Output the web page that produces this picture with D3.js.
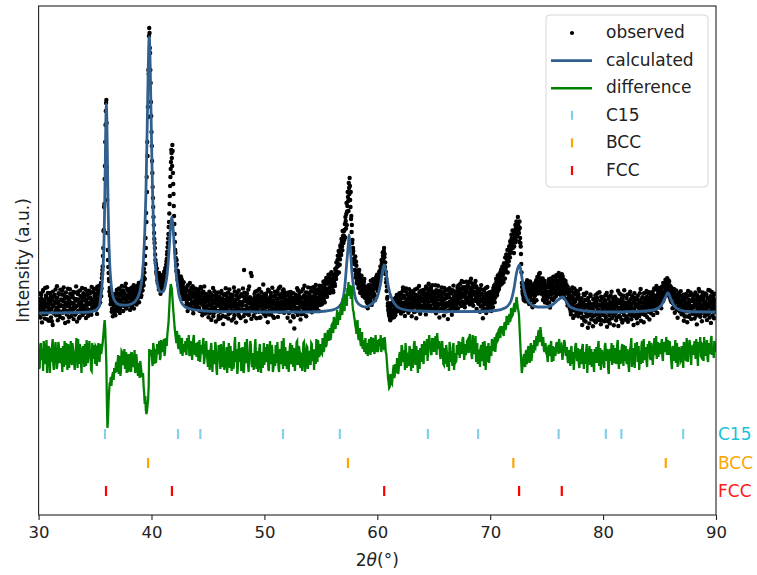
<!DOCTYPE html>
<html>
<head>
<meta charset="utf-8">
<script src="https://cdn.jsdelivr.net/npm/d3@7"></script>
<style>
  body { margin: 0; background: #ffffff; }
  text { font-family: "DejaVu Sans", sans-serif; }
</style>
</head>
<body>
<script>
// ---- DATA ----

// observed pattern, one row per degree of 2theta, step 0.05 deg (row 0 starts at 30)
const observedStart = 30;
const observedStep = 0.05;
const observedRows = [
  [1102,958,1185,1047,1003,1139,896,1072,1221,1015,1093,934,1051,1164,980,1248,1008,1117,912,1085],
  [1030,1190,945,1076,1133,870,1062,1158,995,1104,1226,968,1039,1142,917,1081,1010,1176,949,1068],
  [1125,1003,1212,938,1057,1169,1022,890,1096,1147,975,1060,1233,1014,948,1110,1182,1036,961,1089],
  [1150,1024,929,1071,1195,1043,985,1129,904,1066,1203,1012,1098,953,1160,1035,1082,1240,970,1055],
  [1118,992,1066,1174,940,1095,1210,1027,963,1142,1080,1188,1009,1127,1251,1046,1105,1196,1031,1160],
  [1090,1183,1024,1137,1252,1068,1176,1121,1219,1095,1204,1160,1340,1420,1560,1810,2050,2330,2700,3010],
  [3120,2450,1790,1520,1390,1310,1240,1180,1120,1095,1030,1112,1015,1147,1020,1098,968,1136,1059,1172],
  [1183,1045,1129,1236,990,1107,1174,1062,1215,1138,1010,1192,1081,1256,1124,1047,1168,1230,1093,1150],
  [1138,1204,1021,1176,1097,1243,1062,1150,1218,1034,1169,1251,1088,1197,1112,1263,1140,1225,1098,1286],
  [1195,1290,1168,1250,1214,1302,1265,1338,1330,1480,1640,1900,2200,2560,2950,3380,3840,3640,3420,3100],
  [2800,2510,2250,2050,1870,1730,1640,1520,1470,1380,1362,1290,1330,1225,1296,1341,1182,1275,1368,1230],
  [1302,1256,1378,1334,1415,1390,1472,1530,1604,1690,1780,1900,2080,2260,2430,2620,2540,2670,2390,2180],
  [1960,1780,1620,1540,1410,1475,1322,1396,1268,1340,1215,1302,1356,1188,1270,1231,1155,1298,1206,1142],
  [1180,1063,1245,1122,1009,1166,1213,1078,1290,1136,1045,1198,1102,1257,988,1150,1224,1071,1185,1119],
  [1037,1168,1094,1226,1140,1012,1187,1250,1083,1172,968,1109,1203,1046,1131,985,1094,1159,1020,1118],
  [1162,948,1071,1130,1003,1186,921,1058,1115,1240,986,1093,1027,1154,905,1069,1138,1011,1195,960],
  [1082,1147,938,1035,1211,1006,1096,879,1123,1064,1180,952,1047,1159,1018,1102,935,1071,1226,990],
  [1056,1133,915,1089,1170,1002,1245,968,1075,1118,894,1039,1192,1060,983,1146,1027,1101,940,1177],
  [1013,1095,1236,957,1420,1149,1024,908,1112,1187,1041,979,1130,1255,1004,1088,1390,931,1050,1121],
  [1075,962,1140,1028,1204,1085,937,1117,1051,1168,1002,1231,1090,946,1063,1152,1019,1106,1275,983],
  [1136,1047,960,1185,1070,1124,898,1059,1210,1012,1097,1158,975,1066,1243,1030,1113,941,1080,1171],
  [1024,1139,1062,1207,951,1091,1175,1036,1254,1098,1143,1005,1188,1072,1226,992,1110,1053,1164,1035],
  [1108,943,1079,1196,1040,1122,906,1058,1183,1017,1134,1069,947,835,1086,1003,1151,1042,1237,970],
  [1090,1165,1011,1128,925,1073,1209,1048,1146,982,1101,1262,1037,1119,958,1077,1194,1026,1140,1063],
  [1180,1022,1107,1241,998,1136,1060,1203,1089,1155,1030,1270,1118,1046,1192,1084,1228,1009,1163,1102],
  [1130,1215,1078,1262,1147,1190,1305,1096,1238,1176,1320,1152,1284,1213,1356,1241,1190,1378,1265,1330],
  [1250,1335,1198,1302,1376,1261,1410,1329,1448,1380,1563,1478,1395,1590,1526,1642,1570,1695,1618,1760],
  [1690,1760,1820,1745,1910,1980,1870,2060,2150,2010,2240,2340,2120,2200,1960,1870,1720,1640,1530,1480],
  [1420,1555,1380,1462,1310,1398,1275,1346,1420,1233,1305,1190,1362,1248,1160,1287,1205,1330,1142,1256],
  [1180,1105,1243,1037,1162,1226,1089,1195,1130,1268,1071,1210,1155,1302,1184,1236,1120,1290,1350,1262],
  [1296,1210,1348,1265,1392,1310,1425,1372,1490,1430,1560,1510,1640,1580,1495,1402,1330,1255,1150,1088],
  [1010,962,1045,918,990,1062,943,1021,1088,976,1105,1034,968,1142,1003,1076,1159,1022,1093,1187],
  [1041,1128,985,1170,1063,1212,1006,1094,1151,960,1083,1236,1027,1110,1179,992,1066,1143,1018,1201],
  [1084,957,1132,1048,1190,1000,1115,1225,1052,937,1098,1163,1025,1144,1260,1072,982,1120,1187,1043],
  [1106,1178,1033,1221,1092,1150,976,1247,1120,1065,1198,1283,1040,1165,1107,1232,1010,1141,1206,1077],
  [1159,1024,1113,1268,987,1096,1185,1052,1129,1212,945,1077,1168,1031,1246,1102,1057,1193,964,1088],
  [1132,1215,1006,1084,1170,929,1063,1147,1238,1019,1105,1189,973,1056,1122,1264,1040,1097,1176,1011],
  [1071,1153,1242,1037,1126,1205,1090,1283,1148,1061,1227,1176,1104,1299,1185,1047,1250,1138,1212,1095],
  [1263,1148,1304,1190,1076,1238,1332,1125,1209,1281,1062,1175,1247,1116,1310,1194,1030,1156,1228,1082],
  [1140,1203,1002,1117,1269,1058,1176,937,1089,1215,1034,1128,1182,990,1107,1250,1065,1146,1020,1197],
  [1085,1163,1010,1124,1208,1049,1176,1262,1097,1145,1230,1303,1168,1280,1215,1346,1252,1310,1398,1275],
  [1360,1284,1423,1318,1390,1452,1336,1480,1405,1530,1462,1395,1570,1508,1622,1545,1680,1598,1735,1660],
  [1640,1720,1590,1780,1695,1830,1760,1880,1800,1950,1860,1790,1905,1740,1655,1480,1290,1210,1170,1140],
  [1190,1262,1108,1215,1173,1290,1136,1248,1195,1079,1222,1154,1285,1120,1206,1047,1179,1253,1098,1231],
  [1172,1265,1118,1306,1230,1184,1342,1257,1390,1221,1310,1268,1176,1335,1209,1142,1284,1096,1237,1160],
  [1205,1089,1273,1150,1328,1196,1045,1240,1302,1131,1267,1188,1354,1225,1143,1296,1210,1368,1254,1180],
  [1310,1226,1352,1190,1283,1340,1215,1377,1252,1296,1168,1320,1205,1258,1130,1276,1189,1064,1221,1143],
  [1185,1032,1127,976,1210,1068,1152,941,1093,1236,1017,1118,1174,994,1061,1203,958,1140,1082,1007],
  [1065,988,1137,870,1020,1096,952,1167,1009,905,1074,983,1120,842,1041,1103,968,1034,1159,926],
  [995,1078,857,1010,1133,966,1052,898,1107,980,1185,1028,920,1069,952,1114,877,1003,1146,1037],
  [974,1091,908,1048,1168,942,1015,853,1080,997,1131,966,886,1059,1023,1202,939,987,1105,868],
  [1030,1153,985,917,1076,1008,1120,860,1042,1185,953,1087,1001,1138,894,1027,1163,970,1062,923],
  [1094,956,1039,1172,902,1012,1109,978,1203,1050,927,1081,994,1146,870,1033,1117,961,1065,999],
  [1127,888,1006,1070,960,1188,1025,913,1098,982,1149,1041,898,1016,1132,973,1077,1210,949,1058],
  [1002,1119,925,1064,1158,987,1093,1036,1202,970,1080,1145,1018,1226,1057,1130,991,1178,1103,1237],
  [1145,1074,1216,1038,1162,1255,1108,1200,1132,1278,1185,1230,1312,1170,1285,1250,1198,1302,1144,1221],
  [1176,1101,1225,1038,1147,1083,1200,992,1118,1169,1026,1094,942,1133,1060,1191,1004,1085,1157,977],
  [1069,986,1138,912,1023,1102,955,1180,1034,898,1077,1010,1123,966,1055,1196,929,1018,1111,983],
  [1048,1165,935,1082,1001,1127,876,1039,1154,977,1090,1206,952,1025,1114,908,1066,1143,994,1079],
  [958,1100,1027,1173,919,1045,1132,981,1068,1215,1006,891,1087,1148,964,1053,1126,999,1182,1036],
  [1090]
];

// observed points lying between the ones above (row r starts at 30.025 + r)
const observedStartMid = 30.025;
const observedRowsMid = [
  [1011,1064,1128,945,1172,1090,1036,1205,978,1118,1057,1240,1002,1146,1083,925,1190,1049,1133,1015],
  [1098,1161,1027,907,1120,1204,1055,984,1172,1090,1013,1139,1258,1046,1101,1187,969,1056,1224,1118],
  [1062,1174,993,1108,1245,1031,1137,1078,1196,1009,1150,1092,904,1120,1061,1227,1085,1149,1003,1166],
  [1087,1201,1045,1133,973,1112,1256,1060,1002,1179,1124,938,1069,1215,1097,1000,1153,1131,1024,1187],
  [1046,1157,1230,1011,1122,1068,1173,989,1094,1212,1019,1146,1085,973,1199,1120,1058,1233,1107,1064],
  [1150,1046,1228,981,1110,1195,1072,1263,1140,1214,1290,1235,1380,1455,1640,1820,2080,2460,2870,3090],
  [2890,2120,1620,1450,1330,1205,1162,1078,1146,1003,1090,958,1067,1125,990,1183,1041,1108,1220,1012],
  [1112,1230,1078,1165,1029,1192,1120,1261,1087,1146,1213,1059,1180,1122,1284,1034,1158,1097,1211,1066],
  [1170,1085,1232,1129,1186,1047,1205,1118,1268,1093,1222,1150,1202,1074,1245,1175,1210,1290,1166,1238],
  [1262,1149,1308,1217,1281,1356,1432,1395,1560,1740,1990,2350,2700,3050,3420,3760,3790,3590,3290,2960],
  [2660,2390,2140,1950,1790,1690,1575,1490,1402,1436,1318,1356,1287,1390,1248,1315,1362,1224,1297,1340],
  [1356,1298,1402,1365,1440,1372,1506,1575,1648,1735,1850,1985,2160,2350,2500,2590,2460,2610,2280,2060],
  [1880,1700,1590,1460,1520,1365,1412,1290,1355,1238,1310,1260,1185,1327,1214,1279,1130,1246,1173,1208],
  [1125,1217,1092,1150,1268,1035,1129,1201,1057,1176,1240,1083,1159,1024,1196,1108,1172,1046,1232,1090],
  [1152,1073,1205,1118,1040,1164,1096,1232,1005,1128,1190,1067,1145,1256,1012,1102,1181,1059,1137,995],
  [1028,1110,1203,989,1076,1142,1034,1167,1092,957,1124,1208,1043,1098,1175,1006,1117,1062,930,1150],
  [1115,1003,1072,1188,1040,1132,960,1105,1170,1026,1090,1237,1011,1128,1067,1193,980,1144,1052,1108],
  [1175,1021,1098,1152,1060,936,1119,1206,1034,1088,1162,1009,1131,1080,1215,957,1093,1160,1018,1070],
  [1063,1158,1020,1107,1194,985,1130,1066,1170,1032,1101,1224,970,1085,1147,1043,1121,1360,1009,1092],
  [1118,1037,1180,996,1090,1143,1065,1212,1018,1097,1160,943,1127,1052,1198,1084,1000,1140,1068,1175],
  [1020,1102,1167,1003,1139,1050,1222,1096,975,1133,1061,1190,1028,1117,1086,954,1158,1035,1204,1072],
  [1093,1186,1015,1121,1060,1238,1002,1144,1080,1172,1041,1106,1213,1019,1150,1087,1196,1038,1125,1071],
  [1166,1039,1112,990,1155,1083,1201,1027,1099,1140,960,1188,1056,1118,1020,1172,1094,1003,1131,1218],
  [1044,1123,1196,1058,1101,977,1142,1087,1230,1015,1168,1066,1135,1195,1032,1150,1089,1246,1011,1120],
  [1137,1076,1209,1049,1152,1095,1247,1018,1166,1110,1228,1062,1185,1140,1015,1206,1124,1262,1070,1198],
  [1185,1104,1246,1158,1302,1120,1270,1214,1158,1340,1226,1288,1190,1372,1305,1246,1335,1212,1398,1300],
  [1290,1218,1362,1325,1284,1430,1356,1495,1402,1520,1460,1610,1540,1472,1665,1590,1730,1655,1810,1725],
  [1805,1720,1880,1950,1835,2090,2005,2200,2110,2290,2180,2260,2050,1930,1800,1690,1585,1610,1495,1530],
  [1480,1345,1502,1290,1415,1356,1240,1382,1305,1192,1338,1266,1210,1310,1175,1264,1302,1148,1227,1185],
  [1235,1142,1090,1206,1268,1118,1250,1174,1312,1098,1246,1187,1328,1221,1275,1165,1310,1244,1296,1373],
  [1240,1325,1290,1406,1340,1455,1400,1520,1462,1595,1535,1610,1548,1450,1380,1296,1210,1132,1060,1025],
  [985,1058,932,1016,1090,960,1072,1003,1124,948,1060,1135,1012,1087,1170,1040,1118,1065,1152,1010],
  [1108,1015,1190,1072,1140,1246,1052,1163,1093,1020,1208,1125,1067,1181,1036,1154,1227,1089,1130,1060],
  [1162,1030,1097,1210,1080,1146,1003,1174,1119,1068,1235,1014,1126,1088,1197,1045,1156,1214,1061,1132],
  [1050,1221,1135,1068,1183,1114,1256,1040,1172,1230,1096,1145,1212,1060,1248,1171,1115,1268,1032,1163],
  [1095,1187,1060,1148,1219,1031,1140,1262,1077,1166,1010,1123,1208,1090,1154,1196,1018,1130,1240,1045],
  [1175,1053,1141,1226,1090,1160,1016,1200,1104,1072,1185,1043,1128,1218,1085,1150,1206,1022,1137,1194],
  [1120,1208,1097,1265,1170,1084,1236,1142,1190,1310,1103,1248,1155,1227,1078,1215,1180,1302,1126,1244],
  [1205,1290,1108,1246,1175,1298,1157,1222,1094,1265,1186,1117,1282,1203,1140,1256,1108,1193,1130,1170],
  [1092,1165,1230,1055,1184,1110,1012,1143,1226,1074,1160,1096,1240,1028,1152,1113,1190,1070,1136,1052],
  [1120,1048,1195,1083,1152,1239,1114,1190,1275,1205,1332,1256,1190,1365,1288,1230,1380,1335,1290,1425],
  [1312,1455,1370,1298,1488,1410,1546,1432,1575,1496,1620,1540,1466,1655,1582,1708,1630,1772,1690,1815],
  [1700,1810,1655,1745,1870,1720,1905,1830,1760,1890,1825,1700,1840,1690,1580,1395,1250,1185,1205,1120],
  [1245,1130,1286,1202,1148,1318,1225,1097,1270,1186,1305,1163,1241,1072,1198,1265,1124,1212,1158,1290],
  [1221,1318,1194,1350,1275,1212,1380,1296,1245,1335,1190,1302,1248,1120,1263,1184,1310,1135,1198,1270],
  [1130,1246,1180,1302,1095,1265,1210,1335,1172,1288,1230,1120,1312,1256,1195,1345,1160,1290,1315,1228],
  [1265,1390,1248,1305,1172,1330,1268,1195,1352,1230,1285,1140,1262,1310,1188,1225,1098,1250,1176,1112],
  [1096,1220,1003,1160,1085,1245,1016,1130,1190,962,1102,1056,1212,1030,1145,988,1176,1050,1123,1230],
  [1012,1110,943,1085,1056,1180,914,1046,1121,1000,1192,955,1064,1140,1019,886,1083,1176,1002,1058],
  [1041,957,1125,1060,915,1090,1168,1001,1059,1140,936,1075,1016,1197,990,1063,1152,918,1081,972],
  [1047,1129,1003,962,1114,1070,1190,909,1032,1150,1057,924,1098,1165,995,1088,1042,1138,963,1066],
  [1104,993,1052,1127,946,1091,1212,1015,960,1108,1037,1174,925,1070,1131,1003,1098,1218,1024,1083],
  [1013,1140,1075,935,1098,1059,1180,1026,1127,968,1083,1159,1037,962,1104,1188,1005,1080,1142,938],
  [1052,1160,969,1104,1036,1119,1230,990,1057,1142,1013,1095,1188,972,1067,1110,1034,1151,1089,1190],
  [1074,1197,1032,1140,1089,1016,1184,1120,1068,1167,1236,1035,1108,1163,1260,1092,1155,1208,1071,1146],
  [1100,1192,1245,1120,1208,1170,1290,1152,1246,1205,1322,1262,1195,1338,1280,1226,1314,1176,1262,1120],
  [1248,1140,1196,1088,1172,1230,1058,1150,1096,1215,1043,1130,1176,1018,1102,1155,1066,1209,1027,1119],
  [1108,1034,1172,1065,958,1140,1089,1006,1156,1070,1211,953,1095,1168,1028,1110,1060,1174,994,1140],
  [1118,1003,1086,1195,962,1060,1169,1028,1104,1230,1045,1131,1076,990,1158,1040,1196,1020,1110,1170],
  [1039,1186,972,1068,1140,1006,1220,1090,944,1114,1159,1040,1200,1019,1096,1162,938,1075,1122,1058]
];

// calculated profile, [2theta, intensity] knots
const calcProfile = [
  [30,990],[32,992],[33.5,995],[34.5,1000],[35.1,1020],[35.4,1062],[35.45,1100],[35.5,1150],[35.6,1250],
  [35.7,1415],[35.8,1750],[35.85,2040],[35.9,2435],[35.95,2870],[36,3080],[36.05,2900],[36.1,2490],
  [36.15,2100],[36.2,1810],[36.3,1480],[36.4,1310],[36.6,1150],[36.9,1090],[37.3,1070],[37.8,1068],
  [38.2,1080],[38.5,1100],[38.8,1150],[39,1221],[39.2,1383],[39.3,1544],[39.4,1786],[39.5,2163],
  [39.55,2432],[39.6,2728],[39.65,3051],[39.7,3373],[39.75,3642],[39.8,3750],[39.85,3642],[39.9,3373],
  [39.95,3051],[40,2735],[40.05,2440],[40.1,2175],[40.2,1800],[40.3,1560],[40.4,1395],[40.6,1240],
  [40.8,1202],[41,1203],[41.2,1252],[41.3,1310],[41.4,1395],[41.5,1525],[41.6,1700],[41.7,1876],
  [41.8,1950],[41.9,1860],[42,1690],[42.1,1505],[42.2,1370],[42.3,1280],[42.4,1190],[42.6,1110],
  [42.8,1070],[43,1050],[43.5,1030],[44.5,1012],[46,1003],[50,1000],[54,1000],[55.5,1010],[56.3,1030],
  [56.8,1080],[57.1,1230],[57.3,1500],[57.45,1700],[57.5,1770],[57.6,1650],[57.75,1400],[57.95,1200],
  [58.2,1100],[58.6,1060],[59,1050],[59.35,1070],[59.7,1100],[60,1150],[60.25,1260],[60.45,1400],
  [60.6,1470],[60.8,1380],[61,1240],[61.3,1130],[61.7,1060],[62.3,1025],[63.5,1010],[66,1003],[69,1005],
  [70.5,1015],[71.3,1040],[71.8,1100],[72.1,1230],[72.35,1400],[72.6,1470],[72.8,1350],[73,1220],
  [73.3,1120],[73.7,1070],[74.2,1050],[75,1050],[75.6,1080],[76,1120],[76.45,1150],[76.7,1110],[77,1060],
  [77.5,1030],[78.5,1010],[80,1000],[83,1005],[84.5,1020],[85.1,1060],[85.45,1130],[85.75,1190],
  [86,1130],[86.3,1060],[86.8,1020],[87.5,1005],[90,1000]
];

// difference (observed - calculated), one row per degree, step 0.1 deg
const diffStep = 0.1;
const diffOffset = 540;   // vertical shift applied when the difference is drawn
const diffRows = [
  [60,-90,150,20,-130,110,-40,180,-10,90],
  [-150,70,130,-60,40,160,-110,20,120,-30],
  [100,-140,60,170,-70,30,140,-100,80,-20],
  [150,10,-120,90,40,190,-60,110,-150,60],
  [20,140,-80,100,-10,170,50,-130,80,130],
  [-60,110,30,150,-40,90,90,180,320,300],
  [-60,-700,-430,-250,-190,-200,-140,-100,-150,-40],
  [-40,-160,20,-110,60,-70,90,-30,-150,40],
  [-90,30,-140,0,-60,80,-120,-20,-180,-50],
  [-30,-130,-170,-280,-460,-520,-530,-420,90,50],
  [60,-80,110,20,-50,140,40,170,10,120],
  [80,190,60,150,230,340,560,740,690,520],
  [380,250,150,230,90,180,40,200,110,60],
  [170,30,140,230,50,120,-20,190,80,150],
  [10,160,90,-40,130,60,200,-10,110,40],
  [-90,80,-30,150,-140,40,-60,110,-170,20],
  [90,-110,30,-50,170,-80,10,-150,60,-20],
  [120,-130,40,-70,210,-10,-160,70,-40,100],
  [-80,30,-120,160,-50,80,-140,0,130,-90],
  [50,-60,190,-110,20,-30,140,-150,60,-20],
  [-70,110,-40,30,-130,170,-10,80,-100,40],
  [130,-50,20,-140,90,-20,60,200,-80,30],
  [-110,70,-30,150,-60,10,100,-130,40,170],
  [-20,90,-100,30,-50,160,-140,50,110,-30],
  [60,-70,140,10,-120,80,190,-40,120,30],
  [110,40,180,90,220,130,260,170,300,210],
  [340,250,380,290,420,330,460,380,510,430],
  [560,470,600,520,680,620,730,650,540,460],
  [380,300,340,220,270,160,230,90,180,120],
  [40,150,70,190,30,120,200,80,160,60],
  [180,90,140,230,110,200,80,150,40,-120],
  [-240,-290,-180,-260,-120,-200,-60,-150,-20,-110],
  [60,-80,110,-40,20,150,-100,30,-60,90],
  [-130,40,-20,170,-70,60,-150,20,100,-40],
  [80,-60,130,30,190,70,230,110,40,150],
  [200,60,140,250,90,170,-10,120,50,-70],
  [30,130,-90,60,160,-40,20,110,-120,50],
  [-30,90,170,0,120,60,210,-20,140,80],
  [180,50,240,100,-10,160,70,220,30,-60],
  [60,-90,130,-30,40,170,-120,10,90,-50],
  [120,20,160,70,210,130,240,180,290,200],
  [250,320,220,360,300,390,330,440,380,480],
  [430,520,460,580,540,470,300,60,-150,-60],
  [40,-90,80,-20,120,-50,150,20,90,180],
  [100,220,140,280,190,250,120,210,60,150],
  [80,-40,130,20,170,60,-30,110,40,160],
  [100,190,50,130,-20,90,160,20,110,-50],
  [60,-80,120,10,-120,70,150,-30,40,-100],
  [90,-60,140,-110,30,80,-150,50,120,-20],
  [-90,60,-140,20,110,-50,170,0,-120,80],
  [30,-100,150,-30,60,-160,90,10,-70,130],
  [-40,100,-20,180,-110,50,0,140,-80,70],
  [120,-60,30,-140,90,200,-30,60,-100,40],
  [160,10,-120,70,130,-50,190,20,80,-90],
  [50,170,-20,110,-70,140,30,220,60,10],
  [150,40,190,-30,120,60,210,90,30,170],
  [30,-110,90,-30,180,20,-90,110,50,-30],
  [80,-100,140,10,200,-40,70,150,-70,100],
  [30,170,-10,120,-80,60,210,10,130,-30],
  [90,20,180,-40,110,40,220,70,0,140],
  [60]
];

// difference points lying between the ones above (row r starts at 30.05 + r)
const diffStartMid = 30.05;
const diffRowsMid = [
  [-110,130,-20,90,170,-60,40,-150,120,10],
  [80,-40,190,-120,100,30,-80,160,-50,70],
  [-30,120,-90,40,150,-120,60,10,170,-70],
  [90,-60,40,200,-100,30,140,-40,70,120],
  [-90,60,180,-50,90,20,-120,150,-10,60],
  [120,-80,90,10,140,40,130,250,380,120],
  [-450,-600,-330,-240,-280,-160,-220,-120,-60,-140],
  [30,-90,-180,70,-40,10,-110,60,-60,-140],
  [20,-110,60,-90,-30,-150,40,-80,-120,-200],
  [-80,-190,-150,-350,-380,-560,-470,-280,20,80],
  [-30,150,-60,90,30,70,130,-20,180,60],
  [140,20,200,120,290,450,680,720,610,450],
  [300,200,270,120,230,100,170,20,140,90],
  [60,200,90,20,170,60,140,230,30,110],
  [120,-30,180,40,70,150,-60,90,170,-20],
  [60,-120,100,-60,80,-20,160,-110,50,130],
  [-40,140,-90,60,-120,30,110,-60,150,-100],
  [-60,70,-110,140,-40,90,-100,160,20,-130],
  [110,-150,60,-30,190,-70,50,170,-40,30],
  [-120,100,10,70,-140,90,-60,30,-100,150],
  [60,-20,140,-110,80,-60,130,-140,20,-80],
  [-30,160,-100,50,-60,170,-110,30,110,-60],
  [40,-140,110,-20,130,-90,50,-40,160,-70],
  [120,-60,40,-130,150,20,-70,120,-110,60],
  [-40,150,-30,90,40,-60,70,180,10,140],
  [50,200,60,250,110,190,280,230,180,330],
  [270,410,320,350,480,390,420,540,470,600],
  [510,640,580,700,760,680,590,720,480,410],
  [330,240,380,180,300,120,260,140,60,200],
  [110,20,170,100,210,60,150,40,230,110],
  [60,190,120,60,170,130,210,60,-40,-200],
  [-300,-160,-250,-200,-70,-170,-100,0,-160,30],
  [-50,130,-10,80,-120,60,40,-80,120,-20],
  [90,-100,140,10,120,-60,80,-110,30,140],
  [-20,170,60,110,-30,160,90,40,200,60],
  [130,220,30,180,120,40,90,170,-60,100],
  [-60,80,40,-130,110,70,-80,150,20,-40],
  [130,30,80,160,40,190,110,60,30,170],
  [100,200,140,20,230,40,120,-40,150,50],
  [-20,100,10,160,-80,60,120,-40,150,30],
  [70,190,90,140,60,230,170,280,230,320],
  [290,240,340,280,420,350,400,360,500,420],
  [480,550,510,610,500,430,180,-40,-100,10],
  [-50,60,-60,100,10,90,-30,130,50,110],
  [170,120,250,160,310,200,170,90,130,70],
  [10,110,60,130,-40,120,80,20,140,90],
  [40,150,120,70,40,180,100,60,-10,80],
  [-20,90,-60,60,-30,130,20,100,-60,50],
  [-20,110,0,60,-60,140,-10,80,-70,90],
  [40,-60,90,-50,20,120,-80,100,-40,30],
  [-60,120,40,90,-110,40,-30,150,60,-40],
  [60,-60,140,-20,80,-60,110,20,130,-30],
  [-30,90,-80,50,130,-90,100,-20,150,70],
  [-40,120,40,-60,170,30,-20,110,-40,140],
  [120,10,150,60,40,200,80,-10,160,110],
  [70,120,10,160,90,140,30,180,110,60],
  [-60,120,40,90,-50,150,30,80,-40,120],
  [20,160,40,-30,120,90,180,0,60,130],
  [110,50,190,40,160,90,20,140,70,210],
  [160,100,-10,150,60,190,30,110,170,80]
];

// reflection positions of each phase (2theta, deg)
const phaseNames = ["C15", "BCC", "FCC"];
const phaseLevels = [-220, -510, -790];
const c15Peaks = [35.88, 42.35, 44.33, 51.65, 56.68, 64.48, 68.93, 76.06, 80.24, 81.62, 87.09];
const bccPeaks = [39.70, 57.40, 72.05, 85.55];
const fccPeaks = [35.97, 41.81, 60.61, 72.56, 76.34];
const xTicks = [30, 40, 50, 60, 70, 80, 90];

(function () {
    const W = 757, H = 575;
    const margin = { top: 6, right: 41, bottom: 60, left: 38.6 },
        width = W - margin.left - margin.right,
        height = H - margin.top - margin.bottom;

    const colObs = "#000000",
        colCalc = "#31608e",
        colDiff = "#008000",
        tickColors = ["#87ceeb", "#ffa500", "#ff0000"],
        labelColors = ["#17c3d6", "#ffa500", "#ff1a1a"];

    const svg = d3.select("body").append("svg")
        .attr("width", W)
        .attr("height", H);

    const g = svg.append("g")
        .attr("transform", `translate(${margin.left},${margin.top})`);

    // clip marks to the axes box
    svg.append("defs").append("clipPath")
        .attr("id", "plot-clip")
        .append("rect")
        .attr("width", width)
        .attr("height", height);

    // scales
    const x = d3.scaleLinear().domain([30, 90]).range([0, width]);
    const y = d3.scaleLinear().domain([-1030, 4060]).range([height, 0]);

    // flatten the row tables into points
    function flatten(rows, start, step, offset) {
        const out = [];
        rows.forEach((row, r) => row.forEach((v, j) => {
            out.push({ t: start + r + j * step, v: v + offset });
        }));
        return out;
    }
    const observed = flatten(observedRows, observedStart, observedStep, 0)
        .concat(flatten(observedRowsMid, observedStartMid, observedStep, 0));
    const difference = flatten(diffRows, observedStart, diffStep, diffOffset)
        .concat(flatten(diffRowsMid, diffStartMid, diffStep, diffOffset))
        .sort((a, b) => a.t - b.t);
    const calculated = calcProfile.map(d => ({ t: d[0], v: d[1] }));

    const plot = g.append("g").attr("clip-path", "url(#plot-clip)");

    // 1. observed dots
    plot.append("g")
        .selectAll("circle")
        .data(observed)
        .join("circle")
        .attr("cx", d => x(d.t))
        .attr("cy", d => y(d.v))
        .attr("r", 2.2)
        .attr("fill", colObs);

    // 2. calculated curve
    plot.append("path")
        .datum(calculated)
        .attr("fill", "none")
        .attr("stroke", colCalc)
        .attr("stroke-width", 2.8)
        .attr("stroke-linejoin", "round")
        .attr("d", d3.line().x(d => x(d.t)).y(d => y(d.v)).curve(d3.curveMonotoneX));

    // 3. difference curve
    plot.append("path")
        .datum(difference)
        .attr("fill", "none")
        .attr("stroke", colDiff)
        .attr("stroke-width", 2.3)
        .attr("d", d3.line().x(d => x(d.t)).y(d => y(d.v)));

    // 4. reflection tick rows
    const phasePeaks = [c15Peaks, bccPeaks, fccPeaks];
    phasePeaks.forEach((peaks, i) => {
        plot.append("g")
            .selectAll("line")
            .data(peaks)
            .join("line")
            .attr("x1", d => x(d)).attr("x2", d => x(d))
            .attr("y1", y(phaseLevels[i]) - 5)
            .attr("y2", y(phaseLevels[i]) + 5)
            .attr("stroke", tickColors[i])
            .attr("stroke-width", 2.2);

        g.append("text")
            .attr("x", width + 2)
            .attr("y", y(phaseLevels[i]) + 6)
            .attr("font-size", "17px")
            .attr("fill", labelColors[i])
            .text(phaseNames[i]);
    });

    // 5. x axis and frame
    const xAxis = g.append("g")
        .attr("transform", `translate(0,${height})`)
        .call(d3.axisBottom(x).tickValues(xTicks).tickSize(5).tickPadding(6));
    xAxis.select(".domain").remove();
    xAxis.selectAll("line").attr("stroke", "#222").attr("stroke-width", 1.1);
    xAxis.selectAll("text")
        .attr("font-family", "DejaVu Sans")
        .attr("font-size", "16.5px")
        .attr("fill", "#222");

    g.append("rect")
        .attr("width", width)
        .attr("height", height)
        .attr("fill", "none")
        .attr("stroke", "#222")
        .attr("stroke-width", 1.1);

    const xLabel = g.append("text")
        .attr("x", width / 2)
        .attr("y", height + 51)
        .attr("text-anchor", "middle")
        .attr("font-size", "17px")
        .attr("fill", "#222");
    xLabel.append("tspan").text("2");
    xLabel.append("tspan").attr("font-style", "italic").text("θ");
    xLabel.append("tspan").text("(°)");

    g.append("text")
        .attr("transform", `translate(${-10},${height / 2}) rotate(-90)`)
        .attr("text-anchor", "middle")
        .attr("font-size", "17px")
        .attr("fill", "#222")
        .text("Intensity (a.u.)");

    // 6. legend
    const legend = svg.append("g").attr("transform", "translate(546,15)");
    legend.append("rect")
        .attr("width", 162).attr("height", 172)
        .attr("rx", 4)
        .attr("fill", "#ffffff").attr("fill-opacity", 0.8)
        .attr("stroke", "#d6d6d6");

    const legendItems = ["observed", "calculated", "difference"].concat(phaseNames);
    legendItems.forEach((name, i) => {
        const row = legend.append("g").attr("transform", `translate(0,${23 + i * 27.6})`);
        if (i === 0) {
            row.append("circle").attr("cx", 26).attr("cy", -5).attr("r", 2.1).attr("fill", colObs);
        } else if (i < 3) {
            row.append("line")
                .attr("x1", 5).attr("x2", 46).attr("y1", -5).attr("y2", -5)
                .attr("stroke", i === 1 ? colCalc : colDiff)
                .attr("stroke-width", 2.6);
        } else {
            row.append("line")
                .attr("x1", 26).attr("x2", 26).attr("y1", -10).attr("y2", -1)
                .attr("stroke", tickColors[i - 3])
                .attr("stroke-width", 2.2);
        }
        row.append("text")
            .attr("x", 60)
            .attr("y", 0)
            .attr("font-size", "17px")
            .attr("fill", "#222")
            .text(name);
    });
})();
</script>
</body>
</html>
